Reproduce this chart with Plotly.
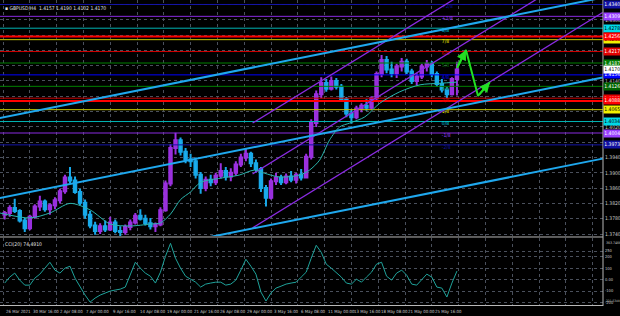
import plotly.graph_objects as go

# ---------------- data ----------------
TITLE = "GBPUSD,H4  1.4157 1.4190 1.4102 1.4170"
CCI_TITLE = "CCI(20) 74.4910"

# candle positions (H4 bar index, each candle = 3 bars)
bar_index = list(range(1, 272, 3))

opens = [1.3790,1.3795,1.3808,1.3800,1.3775,1.3755,1.3785,1.3812,1.3825,1.3805,
         1.3815,1.3828,1.3852,1.3888,1.3880,1.3850,1.3822,1.3790,1.3762,1.3748,
         1.3760,1.3752,1.3770,1.3748,1.3745,1.3758,1.3770,1.3788,1.3780,1.3768,
         1.3760,1.3765,1.3802,1.3872,1.3965,1.3985,1.3955,1.3935,1.3930,1.3895,
         1.3860,1.3882,1.3875,1.3892,1.3905,1.3890,1.3900,1.3922,1.3940,1.3950,
         1.3925,1.3910,1.3860,1.3835,1.3878,1.3888,1.3875,1.3890,1.3882,1.3895,
         1.3888,1.3942,1.4030,1.4105,1.4135,1.4120,1.4140,1.4125,1.4092,1.4055,
         1.4045,1.4068,1.4075,1.4070,1.4095,1.4158,1.4195,1.4170,1.4160,1.4178,
         1.4190,1.4165,1.4140,1.4152,1.4178,1.4185,1.4158,1.4132,1.4118,1.4105,
         1.4145]
highs = [1.3800,1.3815,1.3832,1.3805,1.3782,1.3790,1.3818,1.3840,1.3830,1.3820,
         1.3836,1.3858,1.3895,1.3915,1.3890,1.3858,1.3830,1.3800,1.3772,1.3768,
         1.3775,1.3785,1.3778,1.3760,1.3765,1.3778,1.3795,1.3805,1.3790,1.3782,
         1.3770,1.3810,1.3880,1.3975,1.4005,1.3992,1.3965,1.3950,1.3940,1.3902,
         1.3890,1.3895,1.3900,1.3925,1.3915,1.3912,1.3930,1.3950,1.3962,1.3955,
         1.3935,1.3915,1.3868,1.3885,1.3900,1.3895,1.3898,1.3905,1.3900,1.3910,
         1.3950,1.4040,1.4115,1.4150,1.4145,1.4152,1.4148,1.4132,1.4098,1.4065,
         1.4075,1.4082,1.4092,1.4100,1.4165,1.4208,1.4205,1.4190,1.4185,1.4200,
         1.4198,1.4172,1.4160,1.4185,1.4195,1.4192,1.4165,1.4145,1.4125,1.4150,
         1.4190]
lows = [1.3778,1.3785,1.3795,1.3770,1.3745,1.3750,1.3780,1.3800,1.3798,1.3790,
        1.3805,1.3820,1.3845,1.3872,1.3845,1.3815,1.3780,1.3755,1.3738,1.3740,
        1.3745,1.3748,1.3742,1.3735,1.3738,1.3750,1.3765,1.3775,1.3762,1.3752,
        1.3745,1.3760,1.3798,1.3865,1.3948,1.3945,1.3925,1.3915,1.3885,1.3845,
        1.3852,1.3865,1.3868,1.3885,1.3880,1.3878,1.3892,1.3915,1.3930,1.3915,
        1.3900,1.3850,1.3812,1.3830,1.3868,1.3868,1.3870,1.3875,1.3872,1.3880,
        1.3885,1.3935,1.4020,1.4095,1.4112,1.4115,1.4118,1.4085,1.4045,1.4028,
        1.4040,1.4058,1.4062,1.4065,1.4090,1.4150,1.4160,1.4150,1.4148,1.4165,
        1.4158,1.4132,1.4128,1.4145,1.4165,1.4150,1.4125,1.4110,1.4095,1.4102,
        1.4102]
closes = [1.3795,1.3808,1.3800,1.3775,1.3755,1.3785,1.3812,1.3825,1.3805,1.3815,
          1.3828,1.3852,1.3888,1.3880,1.3850,1.3822,1.3790,1.3762,1.3748,1.3760,
          1.3752,1.3770,1.3748,1.3745,1.3758,1.3770,1.3788,1.3780,1.3768,1.3760,
          1.3765,1.3802,1.3872,1.3965,1.3985,1.3955,1.3935,1.3930,1.3895,1.3860,
          1.3882,1.3875,1.3892,1.3905,1.3890,1.3900,1.3922,1.3940,1.3950,1.3925,
          1.3910,1.3860,1.3835,1.3878,1.3888,1.3875,1.3890,1.3882,1.3895,1.3888,
          1.3942,1.4030,1.4105,1.4135,1.4120,1.4140,1.4125,1.4092,1.4055,1.4045,
          1.4068,1.4075,1.4070,1.4095,1.4158,1.4195,1.4170,1.4160,1.4178,1.4190,
          1.4165,1.4140,1.4152,1.4178,1.4185,1.4158,1.4132,1.4118,1.4105,1.4145,
          1.4170]

# moving average read at selected bars
ma_bar = [-2, 16, 28, 40, 52, 64, 76, 88, 94, 100, 106, 112, 118, 130, 141, 150,
          156, 165, 177, 183, 189, 195, 201, 207, 216, 225, 237, 249, 261, 271]
ma_val = [1.3795, 1.3782, 1.3795, 1.3820, 1.3803, 1.3766, 1.3761, 1.3766, 1.3769,
          1.3792, 1.3830, 1.3850, 1.3875, 1.3886, 1.3894, 1.3907, 1.3899, 1.3889,
          1.3894, 1.3907, 1.3933, 1.3986, 1.4020, 1.4030, 1.4046, 1.4082, 1.4112,
          1.4130, 1.4134, 1.4137]

# CCI values at candle positions
cci_val = [-30, 22, 57, -4, -48, -48, 13, 48, 100, 152,
           83, 57, 100, 117, 13, -65, -135, -196, -161, -135,
           -117, -100, -91, -83, -65, 39, 152, 100, 57, 30,
           -30, 65, 204, 317, 187, 100, 30, 4, -22, -65,
           -39, -30, -22, -22, -48, -39, -4, 83, 178, 117,
           48, -109, -187, -117, -74, -57, -39, -30, -22, 22,
           65, 187, 300, 239, 135, 100, 65, 22, -30, -39,
           4, -22, 22, 65, 135, 152, 30, -4, 57, 83,
           39, -39, -48, -4, 48, 22, -65, -74, -152, -30,
           74.49]

# Murray-style levels
murray_names = ["+2/8", "+1/8", "8/8", "7/8", "6/8", "5/8", "4/8",
                "3/8", "2/8", "1/8", "0/8", "-1/8", "-2/8"]
murray_levels = [1.4340, 1.4309, 1.4278, 1.4248, 1.4217, 1.4187, 1.4156,
                 1.4126, 1.4095, 1.4065, 1.4034, 1.4004, 1.3973]
murray_colors = ["#1414a8", "#8a2be2", "#00b4b4", "#c8c800", "#d00000", "#008000", "#0000ff",
                 "#008000", "#d00000", "#c8c800", "#00b4b4", "#8a2be2", "#1414a8"]
murray_label_colors = ["#1010a0", "#9a40ff", "#00d8e8", "#f0f000", "#e00000", "#007a00", "#0000ff",
                       "#006400", "#e00000", "#f0f000", "#00d8e8", "#9a40ff", "#1010a0"]
key_levels = [1.4256, 1.4088]
last_price = 1.4170

# trend lines (bar index, price)
blue_x = [[-2, 358], [-2, 358], [120, 358]]
blue_y = [[1.4043, 1.4358], [1.3834, 1.4149], [1.3729, 1.3937]]
purple_x = [[149, 275], [149, 358], [149, 358]]
purple_y = [[1.4030, 1.4369], [1.3897, 1.4460], [1.3756, 1.4319]]

# projected path
proj_bar = [271, 276.4, 283.6, 290.7]
proj_price = [1.4174, 1.4221, 1.4101, 1.4137]

price_ticks = [1.3740, 1.3780, 1.3820, 1.3860, 1.3900, 1.3940, 1.3980, 1.4020,
               1.4060, 1.4100, 1.4140, 1.4180, 1.4220, 1.4260, 1.4300, 1.4340]
# labels hidden under the coloured level tags are left blank
price_tick_text = ["1.3740", "1.3780", "1.3820", "1.3860", "1.3900", "1.3940", "", "1.4020",
                   "1.4060", "", "1.4140", "", "", "", "1.4300", ""]
cci_ticks = [250, 200, 100, 0, -100, -200]
cci_tick_text = ["250", "200", "100", "0.00", "-100", "-200"]
cci_top_text = "363.7466"
cci_bottom_text = "-221.5340"
cci_range = [-221.534, 363.7466]

time_ticks = [0, 16, 32, 48, 64, 80, 96, 112, 128, 144, 160, 176, 192, 208, 224, 240, 256]
time_labels = ["26 Mar 2021", "30 Mar 16:00", "2 Apr 08:00", "7 Apr 00:00", "9 Apr 16:00",
               "14 Apr 08:00", "19 Apr 00:00", "21 Apr 16:00", "26 Apr 08:00", "29 Apr 00:00",
               "3 May 16:00", "6 May 08:00", "11 May 00:00", "13 May 16:00", "18 May 08:00",
               "21 May 00:00", "25 May 16:00"]
grid_bars = [0, 16, 32, 48, 64, 80, 96, 112, 128, 144, 160, 176, 192, 208, 224, 240,
             256, 272, 288, 304, 320, 336, 352]

# ---------------- figure ----------------
FONT = "Liberation Sans Narrow, DejaVu Sans Condensed, Liberation Sans, Arial, sans-serif"
AXC = "#c8c8c8"
GRID = "#4a505c"
X_RANGE = [-1.79, 358.2]
Y_RANGE = [1.37348, 1.43517]

fig = go.Figure()

# horizontal levels
for lvl, col in zip(murray_levels, murray_colors):
    fig.add_trace(go.Scatter(x=[-5, 365], y=[lvl, lvl], mode="lines",
                             line=dict(color=col, width=1), hoverinfo="skip",
                             xaxis="x", yaxis="y"))
for lvl in key_levels:
    fig.add_trace(go.Scatter(x=[-5, 365], y=[lvl, lvl], mode="lines",
                             line=dict(color="#ff0000", width=2), hoverinfo="skip",
                             xaxis="x", yaxis="y"))

# level names (behind candles)
fig.add_trace(go.Scatter(x=[262] * len(murray_levels), y=murray_levels, mode="text",
                         text=murray_names, textposition="bottom right",
                         textfont=dict(size=5, color=murray_label_colors, family=FONT),
                         hoverinfo="skip", xaxis="x", yaxis="y"))

# trend lines
for xs, ys in zip(purple_x, purple_y):
    fig.add_trace(go.Scatter(x=xs, y=ys, mode="lines", line=dict(color="#8a2be2", width=1.3),
                             hoverinfo="skip", xaxis="x", yaxis="y"))
for xs, ys in zip(blue_x, blue_y):
    fig.add_trace(go.Scatter(x=xs, y=ys, mode="lines", line=dict(color="#1fa8ee", width=2),
                             hoverinfo="skip", xaxis="x", yaxis="y"))

# candles
fig.add_trace(go.Candlestick(
    x=bar_index, open=opens, high=highs, low=lows, close=closes,
    increasing=dict(line=dict(color="#9a30e0", width=2), fillcolor="#9932cc"),
    decreasing=dict(line=dict(color="#18a8e8", width=2), fillcolor="#20b8f0"),
    whiskerwidth=0, hoverinfo="skip", xaxis="x", yaxis="y"))

# moving average
fig.add_trace(go.Scatter(x=ma_bar, y=ma_val, mode="lines",
                         line=dict(color="#2ab5ad", width=1, shape="spline", smoothing=0.8),
                         hoverinfo="skip", xaxis="x", yaxis="y"))

# projection path
fig.add_trace(go.Scatter(x=proj_bar, y=proj_price, mode="lines",
                         line=dict(color="#22e022", width=2), hoverinfo="skip",
                         xaxis="x", yaxis="y"))

# CCI
fig.add_trace(go.Scatter(x=bar_index, y=cci_val, mode="lines",
                         line=dict(color="#1fa39b", width=1), hoverinfo="skip",
                         xaxis="x2", yaxis="y2"))

annotations = []
# arrowheads on projection
for i0, i1 in [(0, 1), (2, 3)]:
    annotations.append(dict(x=proj_bar[i1], y=proj_price[i1], ax=proj_bar[i0], ay=proj_price[i0],
                            xref="x", yref="y", axref="x", ayref="y", showarrow=True,
                            arrowhead=2, arrowsize=1, arrowwidth=2, arrowcolor="#22e022", text=""))

# right axis coloured labels
def tag(price, bg, fg):
    annotations.append(dict(x=1, xref="paper", y=price, yref="y", xanchor="left",
                            text=f"{price:.4f}", showarrow=False, bgcolor=bg,
                            font=dict(size=5, color=fg, family=FONT), borderpad=0.3,
                            width=16, align="left"))

light = {"#00d8e8", "#f0f000"}
for lvl, col in zip(murray_levels, murray_label_colors):
    tag(lvl, col, "#000000" if col in light else "#ffffff")
for lvl in key_levels:
    tag(lvl, "#ff0000", "#ffffff")
tag(last_price, "#ffffff", "#000000")

# titles
annotations.append(dict(x=0, xref="paper", y=1, yref="paper", xanchor="left", yanchor="top",
                        xshift=3, yshift=-3, text="▪ " + TITLE, showarrow=False,
                        font=dict(size=5, color="#e0e0e0", family=FONT)))
annotations.append(dict(x=0, xref="paper", y=0.2222, yref="paper", xanchor="left", yanchor="top",
                        xshift=3, yshift=-1, text=CCI_TITLE, showarrow=False,
                        font=dict(size=5, color="#e0e0e0", family=FONT)))
# CCI scale extremes
annotations.append(dict(x=1, xref="paper", y=0.2222, yref="paper", xanchor="left", yanchor="top",
                        xshift=0.5, yshift=-0.5, text=cci_top_text, showarrow=False,
                        font=dict(size=3.5, color=AXC, family=FONT)))
annotations.append(dict(x=1, xref="paper", y=0.0033, yref="paper", xanchor="left", yanchor="bottom",
                        xshift=0, text=cci_bottom_text, showarrow=False,
                        font=dict(size=3.2, color=AXC, family=FONT)))
# time labels
for b, lab in zip(time_ticks, time_labels):
    annotations.append(dict(x=b, xref="x2", y=0, yref="paper", xanchor="left", yanchor="top",
                            xshift=1, yshift=-0.5, text=lab, showarrow=False,
                            font=dict(size=4.3, color=AXC, family=FONT)))

shapes = [
    dict(type="line", xref="paper", yref="paper", x0=0, x1=1, y0=0.2255, y1=0.2255,
         line=dict(color="#b8b8b8", width=1)),
    dict(type="line", xref="paper", yref="paper", x0=0, x1=1, y0=0.0016, y1=0.0016,
         line=dict(color="#b8b8b8", width=1)),
    dict(type="line", xref="paper", yref="paper", x0=1, x1=1, y0=0, y1=1,
         line=dict(color="#b8b8b8", width=1)),
]

xcommon = dict(range=X_RANGE, showgrid=True, gridcolor=GRID, griddash="dot", gridwidth=1,
               tickvals=grid_bars, showticklabels=False, zeroline=False, showline=False,
               ticks="", fixedrange=True)

fig.update_layout(
    width=620, height=316,
    margin=dict(l=0, r=17, t=0, b=10),
    paper_bgcolor="#000000", plot_bgcolor="#000000",
    showlegend=False,
    xaxis=dict(domain=[0, 1], anchor="y", rangeslider=dict(visible=False), **xcommon),
    xaxis2=dict(domain=[0, 1], anchor="y2", matches="x", **xcommon),
    yaxis=dict(domain=[0.2288, 1.0], range=Y_RANGE, side="right", tickvals=price_ticks,
               ticktext=price_tick_text, showgrid=True, gridcolor=GRID, griddash="dot",
               tickfont=dict(size=5, color=AXC, family=FONT), ticks="", ticklabelstandoff=1,
               zeroline=False, showline=False, fixedrange=True),
    yaxis2=dict(domain=[0.0033, 0.2222], range=cci_range, side="right", tickvals=cci_ticks,
                ticktext=cci_tick_text, showgrid=True, gridcolor=GRID, griddash="dot",
                tickfont=dict(size=4, color=AXC, family=FONT), ticks="", ticklabelstandoff=1,
                zeroline=False, showline=False, fixedrange=True),
    annotations=annotations,
    shapes=shapes,
)

fig.write_html("out.html")
